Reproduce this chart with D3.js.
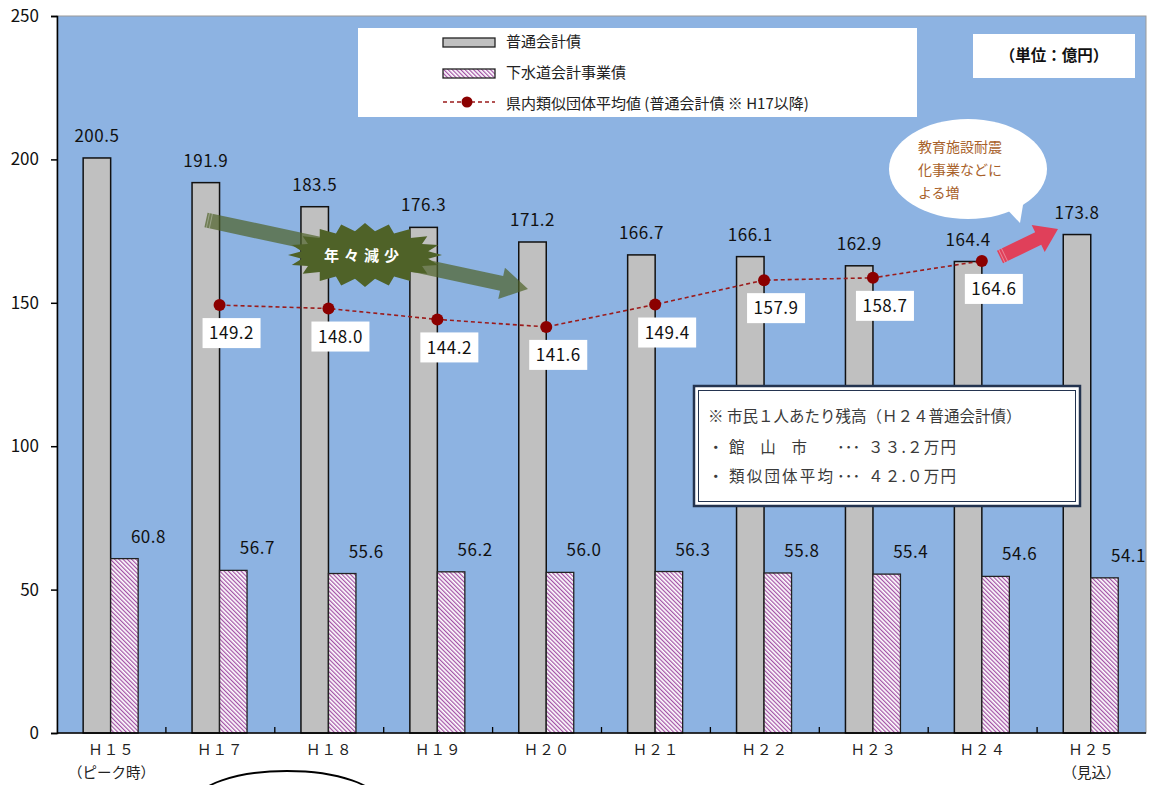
<!DOCTYPE html>
<html lang="ja">
<head>
<meta charset="utf-8">
<script src="https://cdn.jsdelivr.net/npm/d3@7"></script>
<style>
  html, body { margin: 0; padding: 0; background: #fff; }
  svg { display: block; }
  text { font-family: "Noto Sans CJK JP", "Noto Sans", sans-serif; }
</style>
</head>
<body>
<svg id="chart" width="1150" height="785"></svg>
<script>
// 年度
const categories = ["Ｈ１５", "Ｈ１７", "Ｈ１８", "Ｈ１９", "Ｈ２０", "Ｈ２１", "Ｈ２２", "Ｈ２３", "Ｈ２４", "Ｈ２５"];
const subLabels = ["（ピーク時）", "", "", "", "", "", "", "", "", "（見込）"];
// 普通会計債（億円）
const generalDebt = [200.5, 191.9, 183.5, 176.3, 171.2, 166.7, 166.1, 162.9, 164.4, 173.8];
// 下水道会計事業債（億円）
const sewerDebt = [60.8, 56.7, 55.6, 56.2, 56.0, 56.3, 55.8, 55.4, 54.6, 54.1];
// 県内類似団体平均値（普通会計債、H17以降）
const peerAverage = [null, 149.2, 148.0, 144.2, 141.6, 149.4, 157.9, 158.7, 164.6, null];
const yTicks = [0, 50, 100, 150, 200, 250];

const svg = d3.select("#chart");
const plot = { left: 57, right: 1146, top: 16, bottom: 733 };

const x = d3.scaleBand().domain(categories).range([plot.left, plot.right]).padding(0);
const y = d3.scaleLinear().domain([0, 250]).range([plot.bottom, plot.top]);
const barW = x.bandwidth() * 0.2525;
const cx = c => x(c) + x.bandwidth() / 2 - 0.8;

// hatch pattern for the sewer bars
const defs = svg.append("defs");
const pat = defs.append("pattern")
  .attr("id", "hatch").attr("patternUnits", "userSpaceOnUse")
  .attr("width", 3).attr("height", 3)
  .attr("patternTransform", "rotate(-45)");
pat.append("rect").attr("width", 3).attr("height", 3).attr("fill", "#fff");
pat.append("line").attr("x1", 0.7).attr("y1", 0).attr("x2", 0.7).attr("y2", 3)
  .attr("stroke", "#8e2a92").attr("stroke-width", 1);

// plot background
svg.append("rect")
  .attr("x", plot.left).attr("y", plot.top)
  .attr("width", plot.right - plot.left).attr("height", plot.bottom - plot.top)
  .attr("fill", "#8db3e2").attr("stroke", "#9a9a9a").attr("stroke-width", 1);

// bars
const rows = categories.map((c, i) => ({ c, g: generalDebt[i], s: sewerDebt[i], a: peerAverage[i] }));

svg.append("g").selectAll("rect").data(rows).join("rect")
  .attr("x", d => cx(d.c) - barW).attr("y", d => y(d.g))
  .attr("width", barW).attr("height", d => y(0) - y(d.g))
  .attr("fill", "#c0c0c0").attr("stroke", "#111").attr("stroke-width", 1.5);

svg.append("g").selectAll("rect").data(rows).join("rect")
  .attr("x", d => cx(d.c)).attr("y", d => y(d.s))
  .attr("width", barW).attr("height", d => y(0) - y(d.s))
  .attr("fill", "url(#hatch)").attr("stroke", "#222").attr("stroke-width", 1.3);

// value labels
svg.append("g").selectAll("text").data(rows).join("text")
  .attr("x", d => cx(d.c) - barW / 2).attr("y", d => y(d.g) - 16)
  .attr("text-anchor", "middle").attr("font-size", 17).attr("letter-spacing", 0.5)
  .attr("fill", "#111").text(d => d.g.toFixed(1));

svg.append("g").selectAll("text").data(rows).join("text")
  .attr("x", d => cx(d.c) + barW / 2 + 24).attr("y", d => y(d.s) - 16)
  .attr("text-anchor", "middle").attr("font-size", 17).attr("letter-spacing", 0.5)
  .attr("fill", "#111").text(d => d.s.toFixed(1));

// axes
const yAxis = d3.axisLeft(y).tickValues(yTicks).tickSize(6).tickPadding(12);
const gy = svg.append("g").attr("transform", `translate(${plot.left},0)`).call(yAxis);
gy.select(".domain").attr("stroke", "#000").attr("stroke-width", 1.5);
gy.selectAll(".tick line").attr("stroke", "#000").attr("stroke-width", 1.5);
gy.selectAll(".tick text").attr("font-family", "'Liberation Sans', Arial, sans-serif")
  .attr("font-size", 17).attr("fill", "#111");

const gx = svg.append("g").attr("transform", `translate(0,${plot.bottom})`);
gx.append("line").attr("x1", plot.left).attr("x2", plot.right)
  .attr("stroke", "#000").attr("stroke-width", 1.5);
gx.selectAll("line.tk").data(categories.slice(1)).join("line").attr("class", "tk")
  .attr("x1", d => x(d)).attr("x2", d => x(d)).attr("y1", 0).attr("y2", -6)
  .attr("stroke", "#000").attr("stroke-width", 1.3);
gx.selectAll("text.cat").data(categories).join("text").attr("class", "cat")
  .attr("x", d => x(d) + x.bandwidth() / 2).attr("y", 22)
  .attr("text-anchor", "middle").attr("font-size", 14.5).attr("letter-spacing", 1)
  .attr("fill", "#222").text(d => d);
gx.selectAll("text.sub").data(subLabels).join("text").attr("class", "sub")
  .attr("x", (d, i) => x(categories[i]) + x.bandwidth() / 2).attr("y", 45)
  .attr("text-anchor", "middle").attr("font-size", 14.5)
  .attr("fill", "#222").text(d => d);

// green "decreasing" arrow
function arrowPath(len, shaftW, headW, headL) {
  const s = shaftW / 2, h = headW / 2;
  return `M0,${-s}L${len - headL},${-s}L${len - headL},${-h}L${len},0L${len - headL},${h}L${len - headL},${s}L0,${s}Z`;
}
function drawArrow(x0, y0, x1, y1, shaftW, headW, headL, color, opacity) {
  const len = Math.hypot(x1 - x0, y1 - y0);
  const ang = Math.atan2(y1 - y0, x1 - x0) * 180 / Math.PI;
  const g = svg.append("g").attr("transform", `translate(${x0},${y0}) rotate(${ang})`).attr("opacity", opacity);
  g.append("path").attr("d", arrowPath(len, shaftW, headW, headL)).attr("fill", color);
  // striped tail
  [1.5, 4.5].forEach(o => g.append("rect").attr("x", o).attr("y", -shaftW / 2)
    .attr("width", 1).attr("height", shaftW).attr("fill", "#ffffff").attr("opacity", 0.35));
}
drawArrow(206, 220, 528, 289, 15, 32, 27, "#4f6228", 0.7);

// burst label
const burst = [];
const nPts = 40;
for (let i = 0; i < nPts; i++) {
  const t = (i / nPts) * 2 * Math.PI;
  const outer = i % 2 === 0;
  const rx = outer ? 77 : 64, ry = outer ? 32 : 24;
  burst.push([365 + rx * Math.cos(t), 255 + ry * Math.sin(t)]);
}
svg.append("path").attr("d", d3.line()(burst) + "Z").attr("fill", "#4f6228");
svg.append("text").attr("x", 364).attr("y", 256).attr("dy", "0.35em")
  .attr("text-anchor", "middle").attr("font-size", 15).attr("font-weight", "bold")
  .attr("letter-spacing", 5).attr("fill", "#fff").text("年々減少");

// peer average line
const avgRows = rows.filter(d => d.a !== null);
svg.append("path").datum(avgRows)
  .attr("d", d3.line().x(d => cx(d.c)).y(d => y(d.a)))
  .attr("fill", "none").attr("stroke", "#9b1b1b").attr("stroke-width", 1.6)
  .attr("stroke-dasharray", "4,3");
svg.append("g").selectAll("circle").data(avgRows).join("circle")
  .attr("cx", d => cx(d.c)).attr("cy", d => y(d.a)).attr("r", 6)
  .attr("fill", "#8b0000");

const avgLab = svg.append("g").selectAll("g").data(avgRows).join("g")
  .attr("transform", d => `translate(${cx(d.c) + 12},${y(d.a) + 28})`);
avgLab.append("rect").attr("x", -29).attr("y", -15).attr("width", 58).attr("height", 30)
  .attr("fill", "#fff");
avgLab.append("text").attr("text-anchor", "middle").attr("dy", "0.36em")
  .attr("font-size", 17).attr("letter-spacing", 0.5).attr("fill", "#111")
  .text(d => d.a.toFixed(1));

// red increase arrow
drawArrow(1000, 257, 1058, 229, 14, 30, 22, "#e0405a", 1);

// speech bubble
svg.append("path").attr("d", "M1003,205 L1020,223 L1025,193 Z").attr("fill", "#fff");
svg.append("ellipse").attr("cx", 968).attr("cy", 169).attr("rx", 79).attr("ry", 50).attr("fill", "#fff");
const bubbleLines = ["教育施設耐震", "化事業などに", "よる増"];
svg.append("g").selectAll("text").data(bubbleLines).join("text")
  .attr("x", 918).attr("y", (d, i) => 147 + i * 23).attr("dy", "0.35em")
  .attr("font-size", 14).attr("fill", "#a8612a").text(d => d);

// legend
const lg = svg.append("g");
lg.append("rect").attr("x", 358).attr("y", 28).attr("width", 559).attr("height", 89).attr("fill", "#fff");
lg.append("rect").attr("x", 443).attr("y", 38).attr("width", 52).attr("height", 9)
  .attr("fill", "#c0c0c0").attr("stroke", "#222").attr("stroke-width", 1.3);
lg.append("rect").attr("x", 443).attr("y", 69).attr("width", 52).attr("height", 9)
  .attr("fill", "url(#hatch)").attr("stroke", "#222").attr("stroke-width", 1.3);
lg.append("line").attr("x1", 443).attr("x2", 495).attr("y1", 102).attr("y2", 102)
  .attr("stroke", "#9b1b1b").attr("stroke-width", 1.6).attr("stroke-dasharray", "4,3");
lg.append("circle").attr("cx", 467).attr("cy", 102).attr("r", 5.5).attr("fill", "#8b0000");
const legendText = ["普通会計債", "下水道会計事業債", "県内類似団体平均値 (普通会計債 ※ H17以降)"];
lg.selectAll("text").data(legendText).join("text")
  .attr("x", 506).attr("y", (d, i) => 42 + i * 31).attr("dy", "0.35em")
  .attr("font-size", 15).attr("fill", "#222").text(d => d);

// unit box
svg.append("rect").attr("x", 973).attr("y", 34).attr("width", 162).attr("height", 44).attr("fill", "#fff");
svg.append("text").attr("x", 1054).attr("y", 56).attr("dy", "0.35em").attr("text-anchor", "middle")
  .attr("font-size", 15.5).attr("font-weight", "bold").attr("fill", "#111").text("（単位：億円）");

// per-capita note
const nb = svg.append("g");
nb.append("rect").attr("x", 694).attr("y", 386).attr("width", 386).attr("height", 120)
  .attr("fill", "#fff").attr("stroke", "#243450").attr("stroke-width", 2.5);
nb.append("rect").attr("x", 698.5).attr("y", 390.5).attr("width", 377).attr("height", 111)
  .attr("fill", "none").attr("stroke", "#243450").attr("stroke-width", 1);
nb.append("text").attr("x", 708).attr("y", 417).attr("dy", "0.35em").attr("font-size", 15.5)
  .attr("fill", "#3a3a3a").text("※ 市民１人あたり残高（Ｈ２４普通会計債）");
const noteRows = [["館　山　市", "３３.２万円"], ["類似団体平均", "４２.０万円"]];
noteRows.forEach((r, i) => {
  const yy = 448 + i * 29;
  nb.append("text").attr("x", 708).attr("y", yy).attr("dy", "0.35em").attr("font-size", 15.5)
    .attr("fill", "#3a3a3a").text("・");
  nb.append("text").attr("x", 729).attr("y", yy).attr("dy", "0.35em").attr("font-size", 15.5)
    .attr("fill", "#3a3a3a").attr("textLength", i === 0 ? 78 : 104).text(r[0]);
  nb.append("text").attr("x", 837).attr("y", yy).attr("dy", "0.35em").attr("font-size", 15.5)
    .attr("fill", "#3a3a3a").text("･･･");
  nb.append("text").attr("x", 868).attr("y", yy).attr("dy", "0.35em").attr("font-size", 15.5)
    .attr("fill", "#3a3a3a").attr("textLength", 88).text(r[1]);
});

// outline below the axis
svg.append("ellipse").attr("cx", 287).attr("cy", 803).attr("rx", 92).attr("ry", 32)
  .attr("fill", "none").attr("stroke", "#000").attr("stroke-width", 1.8);
</script>
</body>
</html>
